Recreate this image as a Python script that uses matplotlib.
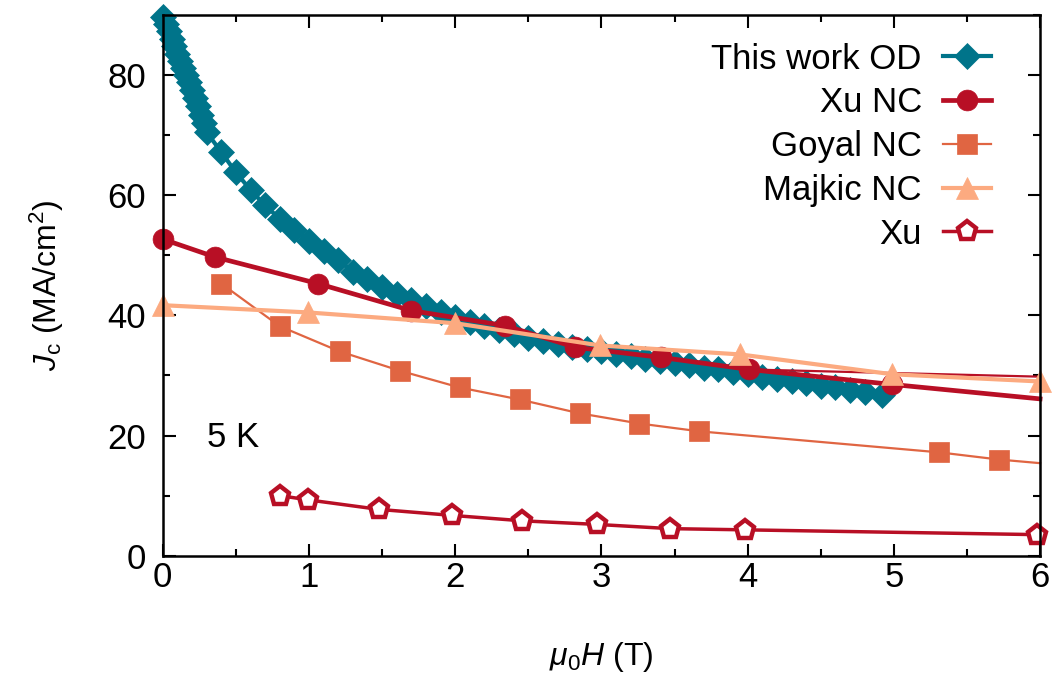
import numpy as np
import matplotlib
matplotlib.use('Agg')
import matplotlib.pyplot as plt

plt.rcParams['font.family'] = ['Liberation Sans', 'DejaVu Sans']
plt.rcParams['mathtext.fontset'] = 'custom'
plt.rcParams['mathtext.rm'] = 'Liberation Sans'
plt.rcParams['mathtext.it'] = 'Liberation Sans:italic'

# field (T) and Jc (MA/cm2)
od_x = [0.00, 0.02, 0.04, 0.06, 0.08, 0.10, 0.12, 0.14, 0.16, 0.18, 0.20, 0.22,
        0.24, 0.26, 0.28, 0.30, 0.4, 0.5, 0.6, 0.7, 0.8, 0.9, 1.0, 1.1, 1.2, 1.3,
        1.4, 1.5, 1.6, 1.7, 1.8, 1.9, 2.0, 2.1, 2.2, 2.3, 2.4, 2.5, 2.6, 2.7, 2.8,
        2.9, 3.0, 3.1, 3.2, 3.3, 3.4, 3.5, 3.6, 3.7, 3.8, 3.9, 4.0, 4.1, 4.2, 4.3,
        4.4, 4.5, 4.6, 4.7, 4.8, 4.92]
od_y = [89.7, 88.5, 87.3, 86.0, 84.8, 83.6, 82.4, 81.2, 80.0, 78.8, 77.5, 76.2,
        74.8, 73.4, 72.0, 70.5, 67.2, 63.8, 60.9, 58.3, 56.1, 54.2, 52.4, 50.8,
        49.2, 47.3, 46.0, 44.7, 43.6, 42.5, 41.5, 40.6, 39.7, 38.9, 38.2, 37.5,
        36.9, 36.3, 35.7, 35.2, 34.8, 34.4, 34.0, 33.6, 33.2, 32.8, 32.4, 32.1,
        31.7, 31.3, 31.0, 30.6, 30.2, 29.8, 29.4, 29.0, 28.7, 28.3, 28.0, 27.6,
        27.3, 26.8]

xunc_x = [0.0, 0.36, 1.06, 1.70, 2.34, 2.82, 3.41, 4.01, 4.99, 6.0]
xunc_y = [52.7, 49.7, 45.3, 40.8, 38.3, 34.7, 33.0, 31.0, 28.5, 26.1]
xunc_tail_x = [4.01, 6.0]
xunc_tail_y = [31.0, 29.8]

goyal_x = [0.40, 0.80, 1.21, 1.62, 2.03, 2.44, 2.85, 3.26, 3.67, 5.31, 5.72, 6.0]
goyal_y = [45.3, 38.2, 34.0, 30.8, 28.0, 26.0, 23.7, 22.0, 20.7, 17.2, 16.0, 15.4]

majkic_x = [0.0, 0.99, 2.0, 2.99, 3.95, 4.99, 6.0]
majkic_y = [41.7, 40.5, 38.7, 35.0, 33.5, 30.2, 29.0]

xu_x = [0.80, 0.99, 1.48, 1.98, 2.46, 2.97, 3.47, 3.98, 5.98]
xu_y = [10.0, 9.3, 7.7, 6.7, 5.8, 5.2, 4.5, 4.3, 3.5]

teal = '#00748a'
red = '#b80f25'
orange = '#e06542'
peach = '#fcaa80'

fig = plt.figure(figsize=(10.57, 6.86), dpi=100)
ax = fig.add_axes([0.154, 0.19, 0.83, 0.788])

# last Xu NC / Goyal points sit on the frame edge, no marker there
ax.plot(od_x, od_y, '-D', color=teal, ms=13, mew=0.5, lw=3, label='This work OD', clip_on=False)
ax.plot(xunc_x, xunc_y, '-o', color=red, ms=15, mew=0.5, lw=3.4, label='Xu NC',
        markevery=list(range(len(xunc_x) - 1)), clip_on=False)
ax.plot(xunc_tail_x, xunc_tail_y, '-', color=red, lw=1.6)
ax.plot(goyal_x, goyal_y, '-s', color=orange, ms=14, mew=0.5, lw=1.6, label='Goyal NC',
        markevery=list(range(len(goyal_x) - 1)), clip_on=False)
ax.plot(majkic_x, majkic_y, '-^', color=peach, ms=16, mew=0.5, lw=3, label='Majkic NC', clip_on=False)
ax.plot(xu_x, xu_y, '-p', color=red, mfc='white', ms=14, mew=3.2, lw=2.5, label='Xu', clip_on=False)

ax.text(0.3, 19.7, '5 K', fontsize=25, va='center', ha='left')

ax.set_xlim(0, 6)
ax.set_ylim(0, 90)
ax.set_xticks(np.arange(0, 7, 1))
ax.set_xticks(np.arange(0, 6.01, 0.5), minor=True)
ax.set_yticks(np.arange(0, 90, 20))
ax.set_yticks(np.arange(0, 91, 10), minor=True)
ax.tick_params(which='both', direction='in', top=True, right=True, width=1.5, labelsize=25)
ax.tick_params(which='major', length=9)
ax.tick_params(which='minor', length=5)
ax.tick_params(axis='x', pad=4)
ax.tick_params(axis='y', pad=12)
for s in ax.spines.values():
    s.set_linewidth(1.8)

ax.set_xlabel(r'$\mu_0H$ (T)', fontsize=23, labelpad=33)
ax.set_ylabel(r'$J_{\mathrm{c}}$ (MA/cm$^2$)', fontsize=23, labelpad=30)

ax.legend(loc='upper right', bbox_to_anchor=(0.98, 1.007), frameon=False,
          markerfirst=False, numpoints=1, fontsize=25, handlelength=1.4,
          labelspacing=0.31, handletextpad=0.6)

fig.savefig('out.png', dpi=100)
